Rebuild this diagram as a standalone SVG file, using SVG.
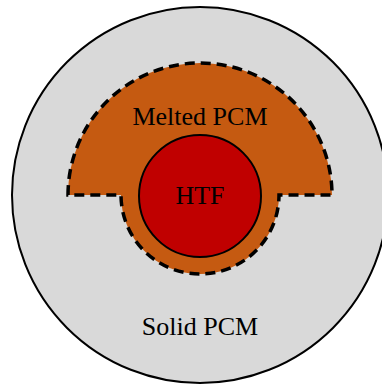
<svg xmlns="http://www.w3.org/2000/svg" width="382" height="385" viewBox="0 0 382 385">
<style>
text{font-family:"Liberation Serif","Times New Roman",serif;font-size:26px;fill:#000;text-anchor:middle}
</style>
<rect width="382" height="385" fill="#fff"/>
<g id="solid">
<circle cx="200" cy="195" r="188" fill="#d9d9d9" stroke="#000" stroke-width="2"/>
<text x="200" y="335">Solid PCM</text>
</g>
<g id="melted">
<path d="M68,195 A132,132 0 0 1 332,195 L279,195 A79,79 0 0 1 121,195 Z" fill="#c55a11" stroke="#000" stroke-width="3.5" stroke-dasharray="10,6"/>
<text x="200" y="125">Melted PCM</text>
</g>
<g id="htf">
<circle cx="200" cy="196" r="61" fill="#c00000" stroke="#000" stroke-width="2"/>
<text x="200" y="204">HTF</text>
</g>
<g id="connectors"/>
</svg>
